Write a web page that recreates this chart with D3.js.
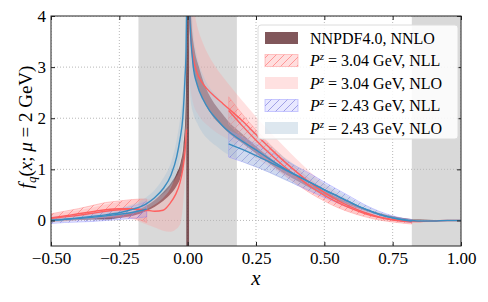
<!DOCTYPE html>
<html>
<head>
<meta charset="utf-8">
<script src="https://cdn.jsdelivr.net/npm/d3@7"></script>
<style>
  body { margin: 0; background: #fff; }
  svg text { font-family: "Liberation Serif", "Times New Roman", serif !important; fill: #000; }
</style>
</head>
<body>
<div id="chart"></div>
<script>
// ---- data ----
var xTicks = [-0.5, -0.25, 0, 0.25, 0.5, 0.75, 1.0];
var yTicks = [0, 1, 2, 3, 4];
var grayRegions = [[-0.18, 0.18], [0.82, 1.0]];

// NNPDF4.0, NNLO
var nnNegX  = [-0.5, -0.45, -0.4, -0.35, -0.3, -0.25, -0.2, -0.15, -0.12, -0.09, -0.06, -0.04, -0.025, -0.015, -0.008, -0.003];
var nnNegLo = [0.00, 0.00, 0.01, 0.02, 0.02, 0.05, 0.09, 0.19, 0.27, 0.38, 0.53, 0.68, 0.86, 1.12, 1.62, 2.70];
var nnNegHi = [0.04, 0.04, 0.05, 0.06, 0.08, 0.11, 0.17, 0.29, 0.40, 0.55, 0.74, 0.93, 1.15, 1.48, 2.10, 3.40];
var nnStripX  = [-0.005, 0.005];
var nnStripLo = [-0.6, -0.6];
var nnStripHi = [4.6, 4.6];
var nnPosX  = [0.005, 0.01, 0.015, 0.025, 0.04, 0.06, 0.09, 0.12, 0.15, 0.2, 0.25, 0.3, 0.35, 0.4, 0.45, 0.5, 0.55, 0.6, 0.65, 0.7, 0.75, 0.8, 0.85, 0.9, 0.95, 1.0];
var nnPosLo = [4.10, 3.60, 3.22, 2.85, 2.58, 2.32, 2.05, 1.87, 1.71, 1.51, 1.31, 1.11, 0.93, 0.775, 0.63, 0.505, 0.39, 0.285, 0.19, 0.115, 0.06, 0.022, 0.007, 0.001, -0.001, -0.001];
var nnPosHi = [4.70, 4.20, 3.78, 3.35, 3.02, 2.68, 2.35, 2.13, 1.93, 1.69, 1.45, 1.23, 1.03, 0.865, 0.71, 0.575, 0.45, 0.335, 0.23, 0.145, 0.08, 0.038, 0.017, 0.007, 0.003, 0.001];

// P^z = 3.04 GeV, NLL (hatched, only outside the gray regions)
var rNllNegX  = [-0.5, -0.45, -0.4, -0.35, -0.3, -0.25, -0.2, -0.15];
var rNllNegY  = [0.05, 0.09, 0.13, 0.17, 0.21, 0.23, 0.23, 0.19];
var rNllNegLo = [-0.03, 0.00, 0.03, 0.05, 0.07, 0.08, 0.05, -0.04];
var rNllNegHi = [0.13, 0.18, 0.23, 0.29, 0.35, 0.38, 0.41, 0.42];
var rNllPosX  = [0.15, 0.2, 0.25, 0.3, 0.35, 0.4, 0.45, 0.5, 0.55, 0.6, 0.65, 0.7, 0.75, 0.8, 0.82];
var rNllPosY  = [2.15, 1.85, 1.57, 1.31, 1.07, 0.86, 0.66, 0.49, 0.35, 0.23, 0.13, 0.06, 0.01, -0.02, -0.03];
var rNllPosLo = [1.88, 1.62, 1.37, 1.13, 0.91, 0.71, 0.53, 0.38, 0.25, 0.15, 0.07, 0.01, -0.03, -0.06, -0.07];
var rNllPosHi = [2.42, 2.08, 1.77, 1.49, 1.23, 1.01, 0.79, 0.60, 0.45, 0.31, 0.19, 0.11, 0.05, 0.02, 0.01];

// P^z = 3.04 GeV, NLO
var rNloNegX  = [-0.5, -0.45, -0.4, -0.35, -0.3, -0.25, -0.2, -0.15, -0.12, -0.09, -0.065, -0.045, -0.028, -0.018, -0.01, -0.004];
var rNloNegY  = [0.04, 0.07, 0.10, 0.14, 0.18, 0.21, 0.22, 0.20, 0.18, 0.20, 0.33, 0.50, 0.74, 1.00, 1.33, 1.78];
var rNloNegLo = [-0.03, -0.02, 0.00, 0.03, 0.05, 0.05, 0.02, -0.08, -0.14, -0.20, -0.22, -0.18, -0.08, 0.25, 0.80, 1.40];
var rNloNegHi = [0.12, 0.16, 0.20, 0.25, 0.31, 0.36, 0.40, 0.42, 0.44, 0.52, 0.66, 0.82, 1.02, 1.30, 1.62, 2.00];
var rNloPosX  = [0.004, 0.01, 0.02, 0.035, 0.05, 0.07, 0.1, 0.13, 0.16, 0.2, 0.25, 0.3, 0.35, 0.4, 0.45, 0.5, 0.55, 0.6, 0.65, 0.7, 0.75, 0.8, 0.85, 0.9, 0.95, 1.0];
var rNloPosY  = [4.5, 3.7, 3.2, 2.88, 2.72, 2.58, 2.42, 2.28, 2.14, 1.95, 1.68, 1.42, 1.17, 0.94, 0.73, 0.55, 0.39, 0.26, 0.15, 0.07, 0.02, -0.01, -0.02, -0.01, 0, 0];
var rNloPosLo = [3.0, 2.6, 2.3, 2.1, 1.98, 1.87, 1.74, 1.64, 1.54, 1.40, 1.22, 1.05, 0.88, 0.71, 0.55, 0.40, 0.27, 0.16, 0.08, 0.02, -0.02, -0.04, -0.04, -0.03, -0.01, 0];
var rNloPosHi = [4.7, 4.5, 4.2, 3.8, 3.55, 3.3, 3.02, 2.8, 2.6, 2.34, 2.03, 1.74, 1.46, 1.19, 0.94, 0.72, 0.52, 0.36, 0.23, 0.13, 0.06, 0.02, 0.00, 0.01, 0.01, 0];

// P^z = 2.43 GeV, NLL (hatched)
var bNllNegX  = [-0.5, -0.45, -0.4, -0.35, -0.3, -0.25, -0.2, -0.15];
var bNllNegY  = [0.00, 0.02, 0.04, 0.06, 0.09, 0.12, 0.16, 0.22];
var bNllNegLo = [-0.06, -0.04, -0.03, -0.02, 0.00, 0.02, 0.04, 0.07];
var bNllNegHi = [0.06, 0.08, 0.11, 0.14, 0.18, 0.22, 0.28, 0.37];
var bNllPosX  = [0.15, 0.2, 0.25, 0.3, 0.35, 0.4, 0.45, 0.5, 0.55, 0.6, 0.65, 0.7, 0.75, 0.8, 0.82];
var bNllPosY  = [1.50, 1.39, 1.27, 1.14, 1.01, 0.87, 0.74, 0.60, 0.47, 0.34, 0.22, 0.12, 0.05, 0.00, -0.01];
var bNllPosLo = [1.24, 1.15, 1.05, 0.94, 0.82, 0.69, 0.57, 0.45, 0.34, 0.23, 0.14, 0.06, 0.01, -0.03, -0.04];
var bNllPosHi = [1.76, 1.63, 1.49, 1.34, 1.20, 1.05, 0.91, 0.75, 0.60, 0.45, 0.30, 0.18, 0.09, 0.03, 0.02];

// P^z = 2.43 GeV, NLO
var bNloNegX  = [-0.5, -0.45, -0.4, -0.35, -0.3, -0.25, -0.2, -0.15, -0.12, -0.09, -0.06, -0.04, -0.028, -0.018, -0.01, -0.006, -0.003];
var bNloNegY  = [0.00, 0.02, 0.05, 0.08, 0.11, 0.15, 0.22, 0.33, 0.45, 0.62, 0.90, 1.25, 1.59, 2.00, 2.76, 3.30, 4.50];
var bNloNegLo = [-0.04, -0.02, 0.01, 0.03, 0.06, 0.09, 0.14, 0.22, 0.31, 0.44, 0.66, 0.95, 1.22, 1.55, 2.20, 2.70, 3.60];
var bNloNegHi = [0.05, 0.07, 0.10, 0.14, 0.18, 0.24, 0.32, 0.46, 0.60, 0.82, 1.15, 1.58, 1.98, 2.50, 3.30, 4.00, 4.70];
var bNloPosX  = [0.004, 0.01, 0.02, 0.035, 0.056, 0.08, 0.106, 0.13, 0.155, 0.2, 0.25, 0.3, 0.35, 0.4, 0.45, 0.5, 0.55, 0.6, 0.65, 0.7, 0.75, 0.8, 0.85, 0.9, 0.95, 1.0];
var bNloPosY  = [4.5, 3.7, 3.03, 2.65, 2.37, 2.15, 1.98, 1.84, 1.72, 1.55, 1.38, 1.20, 1.03, 0.88, 0.74, 0.60, 0.47, 0.34, 0.22, 0.12, 0.05, 0.01, -0.01, -0.01, 0, 0];
var bNloPosLo = [3.5, 2.4, 2.1, 1.9, 1.7, 1.56, 1.45, 1.35, 1.27, 1.15, 1.04, 0.93, 0.80, 0.69, 0.58, 0.47, 0.36, 0.25, 0.15, 0.07, 0.02, -0.01, -0.02, -0.02, -0.01, 0];
var bNloPosHi = [4.7, 4.5, 3.7, 3.2, 2.85, 2.6, 2.44, 2.28, 2.14, 1.95, 1.72, 1.48, 1.25, 1.06, 0.89, 0.73, 0.58, 0.43, 0.29, 0.17, 0.08, 0.03, 0.01, 0.00, 0.01, 0];

var legendLabels = ["NNPDF4.0, NNLO", "3.04 GeV, NLL", "3.04 GeV, NLO", "2.43 GeV, NLL", "2.43 GeV, NLO"];

// ---- colours ----
var cBrown = "#6b3a3e", cRed = "#ff5f5f", cBlue = "#3a8cc0";

// ---- layout ----
var W = 488, H = 302;
var margin = {top: 16, right: 27, bottom: 56, left: 51},
    width = W - margin.left - margin.right,
    height = H - margin.top - margin.bottom;

var svg = d3.select("#chart").append("svg")
    .attr("width", W).attr("height", H);
var defs = svg.append("defs");

defs.append("clipPath").attr("id", "plotClip")
  .append("rect").attr("width", width).attr("height", height);

function hatch(id, color) {
  var p = defs.append("pattern").attr("id", id)
      .attr("patternUnits", "userSpaceOnUse")
      .attr("width", 8).attr("height", 8);
  p.append("path")
      .attr("d", "M0,8 L8,0 M-2,2 L2,-2 M6,10 L10,6")
      .attr("stroke", color).attr("stroke-width", 1).attr("fill", "none");
}
hatch("hatchRed", "#ff7070");
hatch("hatchBlue", "#7a7ad8");

var g = svg.append("g")
    .attr("transform", "translate(" + margin.left + "," + margin.top + ")");

var x = d3.scaleLinear().domain([-0.5, 1.0]).range([0, width]);
var y = d3.scaleLinear().domain([-0.5, 4]).range([height, 0]);

var plot = g.append("g").attr("clip-path", "url(#plotClip)");

// gray regions
plot.selectAll(".gray").data(grayRegions).enter().append("rect")
    .attr("x", function(d) { return x(d[0]); })
    .attr("width", function(d) { return x(d[1]) - x(d[0]); })
    .attr("y", 0).attr("height", height)
    .attr("fill", "#d9d9d9");

// grid
plot.selectAll(".gx").data(xTicks).enter().append("line")
    .attr("x1", function(d) { return x(d); }).attr("x2", function(d) { return x(d); })
    .attr("y1", 0).attr("y2", height)
    .attr("stroke", "#b8b8b8").attr("stroke-width", 1).attr("stroke-dasharray", "1,2");
plot.selectAll(".gy").data(yTicks).enter().append("line")
    .attr("y1", function(d) { return y(d); }).attr("y2", function(d) { return y(d); })
    .attr("x1", 0).attr("x2", width)
    .attr("stroke", "#b8b8b8").attr("stroke-width", 1).attr("stroke-dasharray", "1,2");

function pack(xs, lo, hi, mid) {
  return xs.map(function(v, i) {
    return {x: v, lo: lo[i], hi: hi[i], mid: mid ? mid[i] : null};
  });
}

var area = d3.area().curve(d3.curveMonotoneX)
    .x(function(d) { return x(d.x); })
    .y0(function(d) { return y(d.lo); })
    .y1(function(d) { return y(d.hi); });
var line = d3.line().curve(d3.curveMonotoneX)
    .x(function(d) { return x(d.x); })
    .y(function(d) { return y(d.mid); });

function band(data, fill, opacity) {
  plot.append("path").datum(data)
      .attr("d", area).attr("fill", fill).attr("fill-opacity", opacity).attr("stroke", "none");
}
function hatchBand(data, fill, pattern, edge) {
  plot.append("path").datum(data).attr("d", area)
      .attr("fill", fill).attr("fill-opacity", 0.2).attr("stroke", "none");
  plot.append("path").datum(data).attr("d", area)
      .attr("fill", "url(#" + pattern + ")").attr("opacity", 0.65)
      .attr("stroke", edge).attr("stroke-opacity", 0.6).attr("stroke-width", 1);
}
function curve(data, color) {
  plot.append("path").datum(data)
      .attr("d", line).attr("fill", "none")
      .attr("stroke", color).attr("stroke-width", 1.4);
}

// NNPDF
band(pack(nnNegX, nnNegLo, nnNegHi), cBrown, 0.85);
band(pack(nnStripX, nnStripLo, nnStripHi), cBrown, 0.85);
band(pack(nnPosX, nnPosLo, nnPosHi), cBrown, 0.85);

// 3.04 GeV
var rNllNeg = pack(rNllNegX, rNllNegLo, rNllNegHi, rNllNegY),
    rNllPos = pack(rNllPosX, rNllPosLo, rNllPosHi, rNllPosY),
    rNloNeg = pack(rNloNegX, rNloNegLo, rNloNegHi, rNloNegY),
    rNloPos = pack(rNloPosX, rNloPosLo, rNloPosHi, rNloPosY);
hatchBand(rNllNeg, "#ff5c5c", "hatchRed", "#ff7777");
hatchBand(rNllPos, "#ff5c5c", "hatchRed", "#ff7777");
band(rNloNeg, "#ff9c9c", 0.3);
band(rNloPos, "#ff9c9c", 0.3);

// 2.43 GeV
var bNllNeg = pack(bNllNegX, bNllNegLo, bNllNegHi, bNllNegY),
    bNllPos = pack(bNllPosX, bNllPosLo, bNllPosHi, bNllPosY),
    bNloNeg = pack(bNloNegX, bNloNegLo, bNloNegHi, bNloNegY),
    bNloPos = pack(bNloPosX, bNloPosLo, bNloPosHi, bNloPosY);
hatchBand(bNllNeg, "#8b8bff", "hatchBlue", "#8080ff");
hatchBand(bNllPos, "#8b8bff", "hatchBlue", "#8080ff");
band(bNloNeg, "#a9c4d8", 0.4);
band(bNloPos, "#a9c4d8", 0.4);

// central lines
[rNllNeg, rNllPos, rNloNeg, rNloPos].forEach(function(d) { curve(d, cRed); });
[bNllNeg, bNllPos, bNloNeg, bNloPos].forEach(function(d) { curve(d, cBlue); });

// frame + inward ticks
g.append("rect").attr("width", width).attr("height", height)
    .attr("fill", "none").attr("stroke", "#222").attr("stroke-width", 1);

function styleTicks(a) {
  a.select(".domain").remove();
  a.attr("font-family", null);
  a.selectAll("line").attr("stroke", "#222");
  a.selectAll("text").style("font-size", "17px");
}
g.append("g").attr("transform", "translate(0," + height + ")")
    .call(d3.axisBottom(x).tickValues(xTicks).tickFormat(d3.format(".2f")).tickSizeInner(-4).tickSizeOuter(0).tickPadding(6))
    .call(styleTicks);
g.append("g")
    .call(d3.axisTop(x).tickValues(xTicks).tickFormat("").tickSizeInner(-4).tickSizeOuter(0))
    .call(styleTicks);
g.append("g")
    .call(d3.axisLeft(y).tickValues(yTicks).tickFormat(d3.format("d")).tickSizeInner(-4).tickSizeOuter(0).tickPadding(5))
    .call(styleTicks);
g.append("g").attr("transform", "translate(" + width + ",0)")
    .call(d3.axisRight(y).tickValues(yTicks).tickFormat("").tickSizeInner(-4).tickSizeOuter(0))
    .call(styleTicks);

// axis titles
g.append("text")
    .attr("x", width / 2).attr("y", height + 39)
    .attr("text-anchor", "middle")
    .style("font-size", "21px").style("font-style", "italic")
    .text("x");

var yl = svg.append("text")
    .attr("transform", "translate(32,127) rotate(-90)")
    .attr("text-anchor", "middle")
    .style("font-size", "19px");
yl.append("tspan").style("font-style", "italic").text("f");
yl.append("tspan").attr("dy", 4).style("font-size", "13px").style("font-style", "italic").text("q");
yl.append("tspan").attr("dy", -4).text("(");
yl.append("tspan").style("font-style", "italic").text("x");
yl.append("tspan").text("; ");
yl.append("tspan").style("font-style", "italic").text("μ");
yl.append("tspan").text(" = 2 GeV)");

// legend
var lg = g.append("g").attr("transform", "translate(" + (258 - margin.left) + "," + (25 - margin.top) + ")");
lg.append("rect").attr("width", 200).attr("height", 114).attr("rx", 3)
    .attr("fill", "#fff").attr("fill-opacity", 0.85)
    .attr("stroke", "#dcdcdc").attr("stroke-width", 1);

var rowY = function(i) { return 13 + i * 22.5; };
var patchStyles = [
  {fill: cBrown, op: 0.85, pat: null},
  {fill: "#ff5c5c", op: 0.2, pat: "hatchRed", edge: "#ff7777"},
  {fill: "#ff9c9c", op: 0.3, pat: null},
  {fill: "#8b8bff", op: 0.2, pat: "hatchBlue", edge: "#8080ff"},
  {fill: "#a9c4d8", op: 0.4, pat: null}
];
legendLabels.forEach(function(lab, i) {
  var s = patchStyles[i];
  lg.append("rect").attr("x", 7).attr("y", rowY(i) - 6).attr("width", 33).attr("height", 12)
      .attr("fill", s.fill).attr("fill-opacity", s.op);
  if (s.pat) {
    lg.append("rect").attr("x", 7).attr("y", rowY(i) - 6).attr("width", 33).attr("height", 12)
        .attr("fill", "url(#" + s.pat + ")").attr("opacity", 0.65)
        .attr("stroke", s.edge).attr("stroke-opacity", 0.6);
  }
  var t = lg.append("text").attr("x", 52).attr("y", rowY(i) + 5.5).style("font-size", "16px");
  if (i === 0) {
    t.text(lab);
  } else {
    t.append("tspan").style("font-style", "italic").text("P");
    t.append("tspan").attr("dy", -6).style("font-size", "11px").style("font-style", "italic").text("z");
    t.append("tspan").attr("dy", 6).text(" = " + lab);
  }
});
</script>
</body>
</html>
